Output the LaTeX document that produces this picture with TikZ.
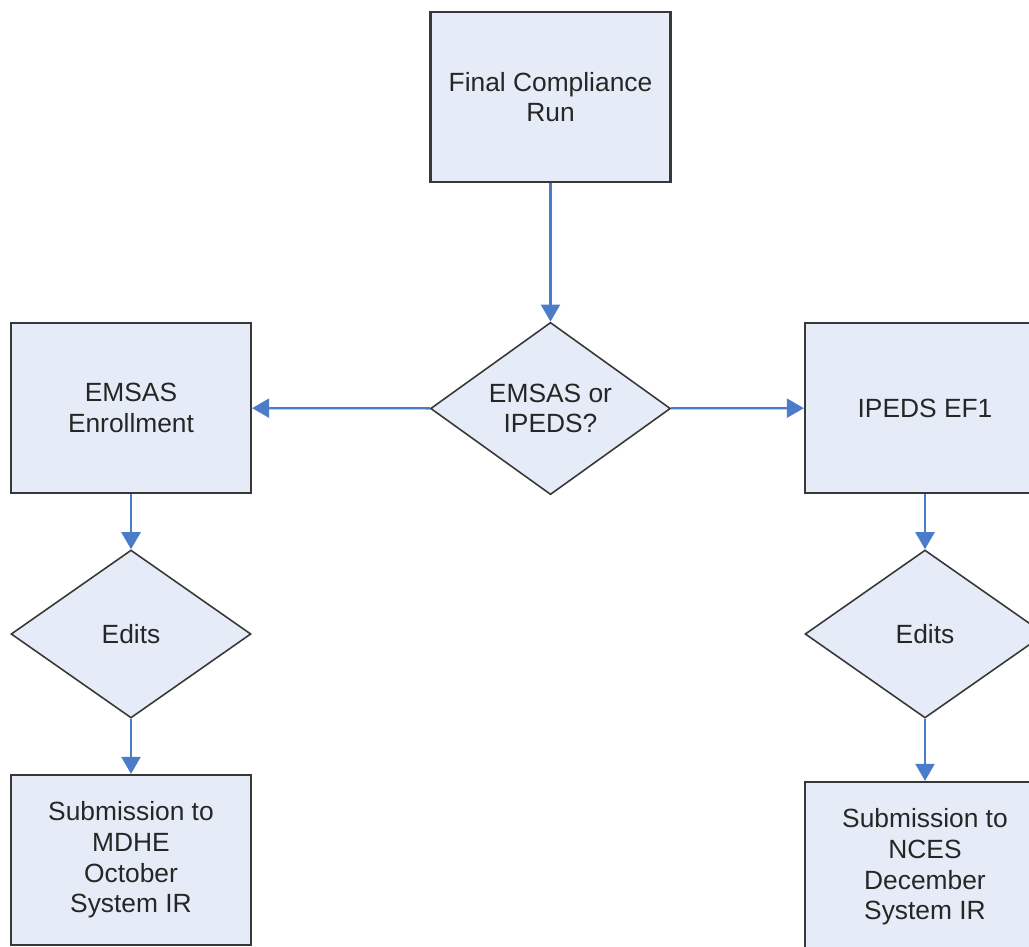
\documentclass[tikz,border=0pt]{standalone}
\usepackage{xcolor}
\usepackage{fontspec}
\setmainfont{Liberation Sans}
\usepackage{tikz}
\usetikzlibrary{shapes.geometric,arrows.meta}

\definecolor{boxfill}{HTML}{E6ECF7}
\definecolor{boxline}{HTML}{383838}
\definecolor{flowblue}{HTML}{4A7CC9}
\definecolor{txtgray}{HTML}{262626}

\tikzset{
  stepbox/.style={draw=boxline, fill=boxfill, line width=1.3pt, rectangle,
    minimum width=4.8cm, minimum height=3.4cm, inner sep=0pt, align=center,
    text=txtgray, font=\fontsize{15}{17.4}\selectfont},
  choicebox/.style={draw=boxline, fill=boxfill, line width=0.9pt, diamond,
    minimum width=4.8cm, minimum height=3.36cm, inner sep=0pt, align=center,
    text=txtgray, font=\fontsize{15}{17.4}\selectfont},
  flow/.style={draw=flowblue, line width=1.3pt,
    -{Triangle[length=0.34cm,width=0.38cm]}}
}

\begin{document}
\begin{tikzpicture}[x=0.02cm, y=-0.02cm]
             \useasboundingbox (0,0) rectangle (1029,947);
             \clip (0,0) rectangle (1029,947);

             % top of the flow
             \node[stepbox] (final) at (550.5, 97) {Final Compliance\\Run};
             \node[choicebox] (choice) at (550.5, 408.5) {EMSAS or\\IPEDS?};

             % EMSAS side
             \node[stepbox] (emsas) at (131, 408) {EMSAS\\Enrollment};
             \node[choicebox] (editsL) at (131, 634) {Edits};
             \node[stepbox] (mdhe) at (131, 860) {Submission to\\MDHE\\October\\System IR};

             % IPEDS side
             \node[stepbox] (ipeds) at (925, 408) {IPEDS EF1};
             \node[choicebox] (editsR) at (925, 634) {Edits};
             \node[stepbox] (nces) at (925, 867) {Submission to\\NCES\\December\\System IR};

             \draw[flow] (final) -- (choice);
             \draw[flow] (choice) -- (emsas);
             \draw[flow] (choice) -- (ipeds);
             \draw[flow] (emsas) -- (editsL);
             \draw[flow] (editsL) -- (mdhe);
             \draw[flow] (ipeds) -- (editsR);
             \draw[flow] (editsR) -- (nces);
             \end{tikzpicture}
\end{document}
